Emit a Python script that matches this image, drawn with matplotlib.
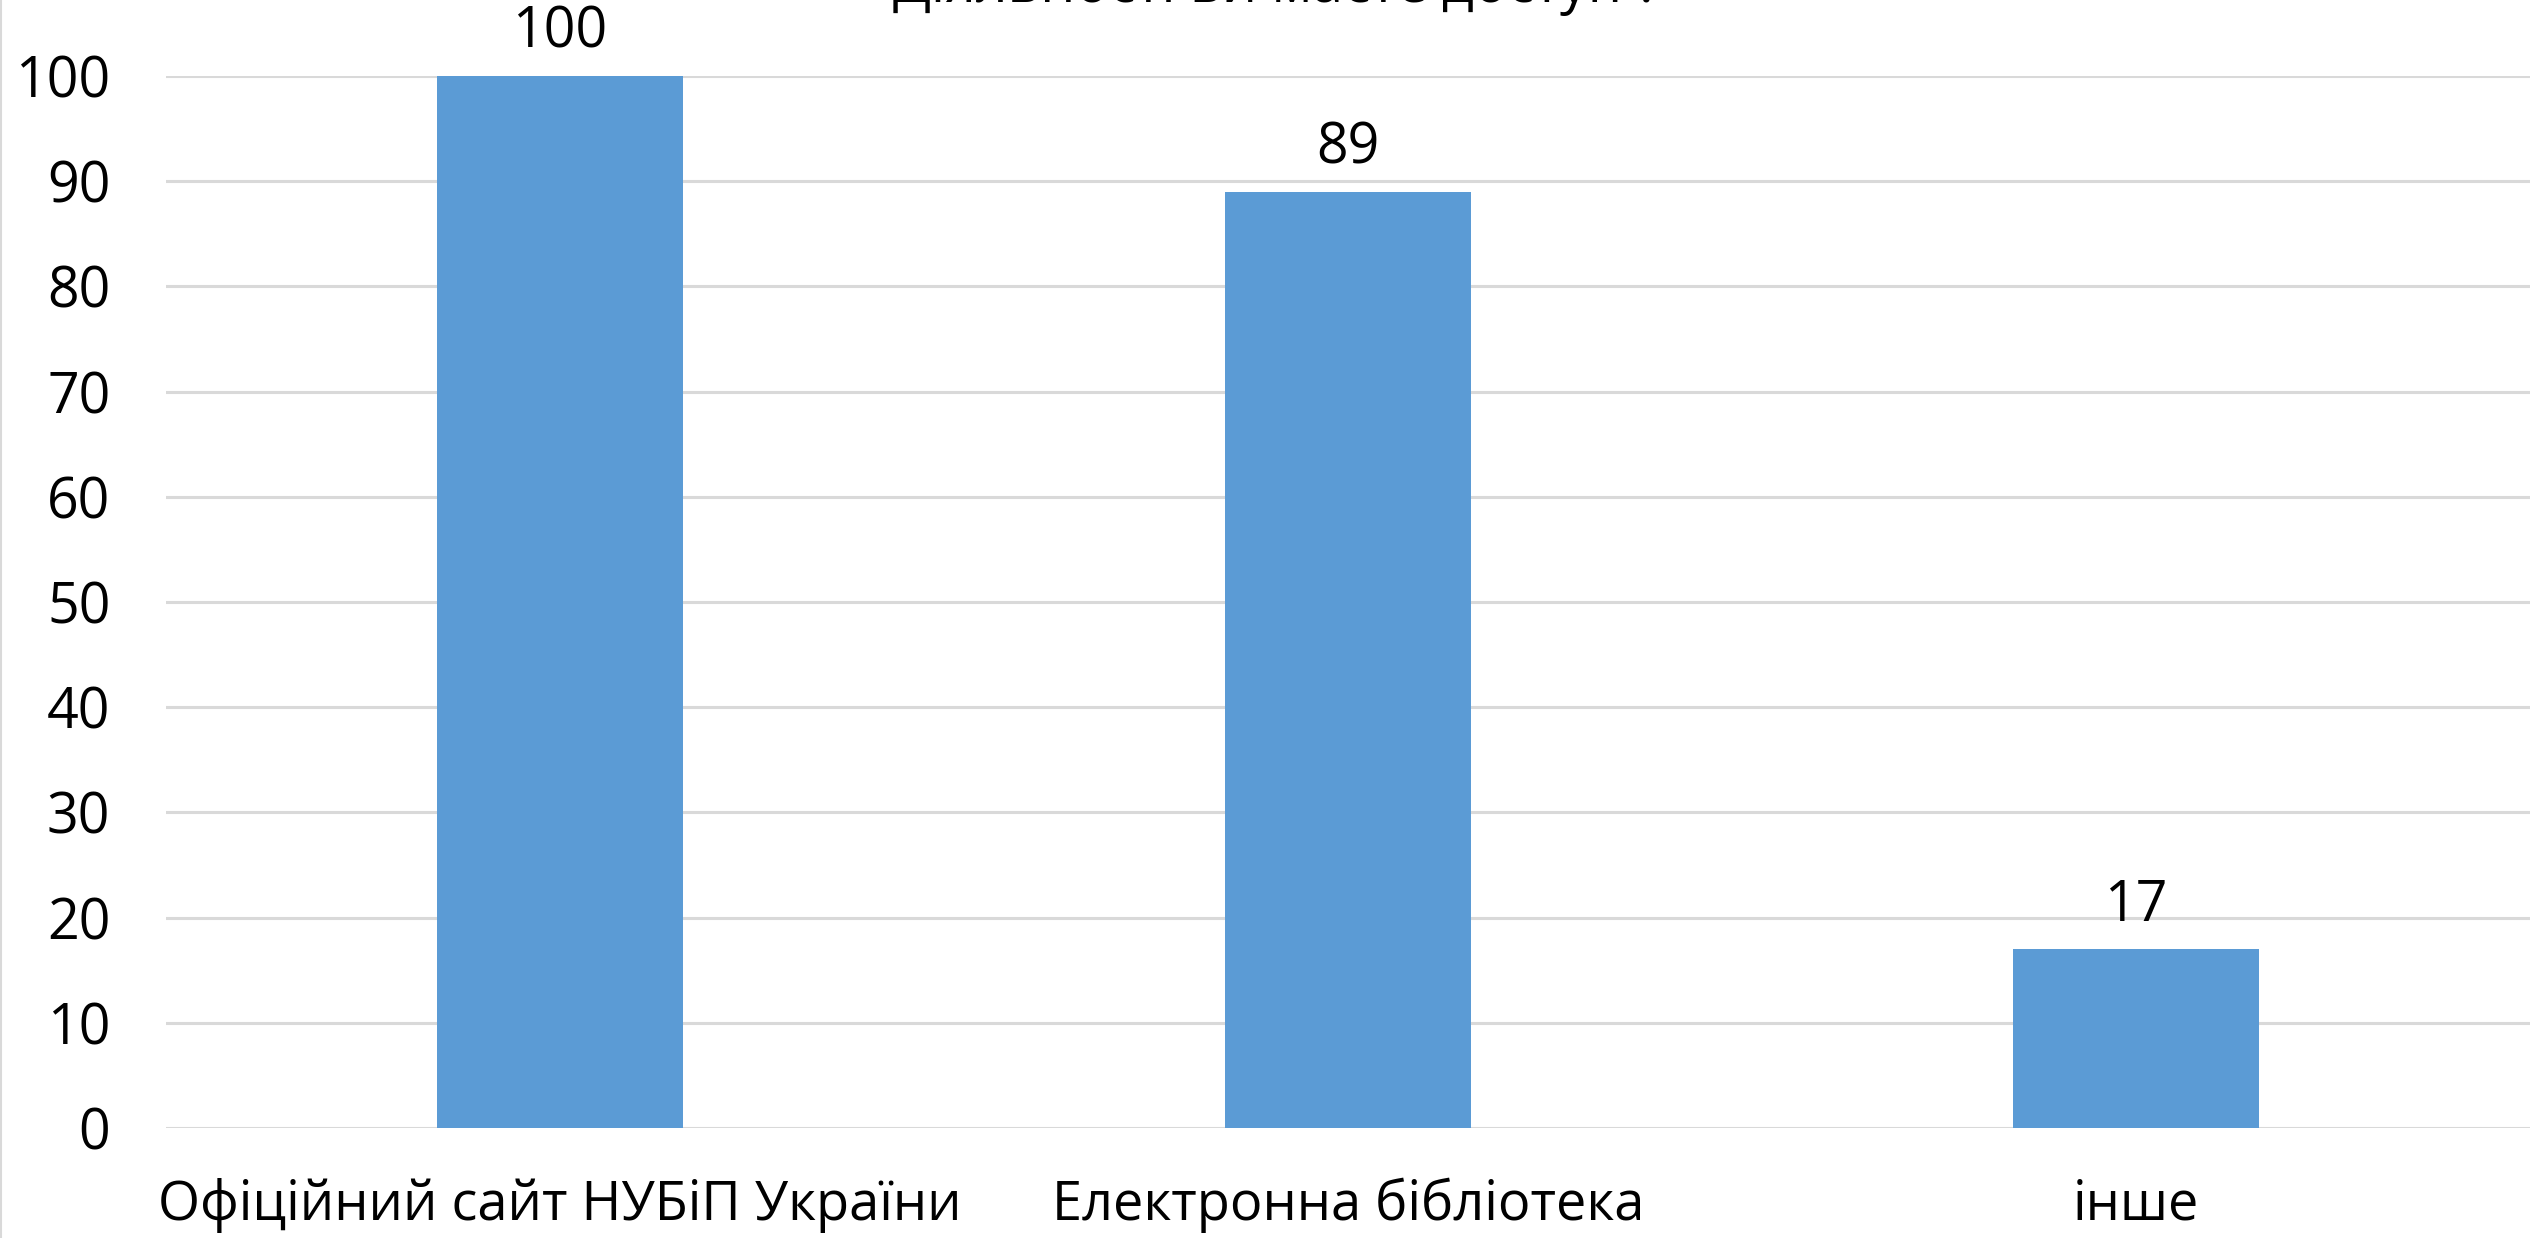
import matplotlib
matplotlib.use("Agg")
import matplotlib.pyplot as plt
from matplotlib.lines import Line2D

plt.rcParams['font.family'] = ['Open Sans', 'DejaVu Sans']

categories = ["Офіційний сайт НУБіП України", "Електронна бібліотека", "інше"]
values = [100, 89, 17]
yticks = [0, 10, 20, 30, 40, 50, 60, 70, 80, 90, 100]
title = "Діяльності ви маєте доступ ?"

W, H = 2531, 1238
fig = plt.figure(figsize=(W / 100, H / 100), dpi=100)
ax = fig.add_axes([166 / W, 1 - 1128 / H, (2530 - 166) / W, (1128 - 76) / H])

bar_color = "#5B9BD5"
x = list(range(len(categories)))
bars = ax.bar(x, values, width=0.313, color=bar_color, zorder=3)

ax.set_xlim(-0.5, len(categories) - 0.5)
ax.set_ylim(0, 100)
ax.set_yticks(yticks)
ax.set_yticklabels([str(t) for t in yticks], fontsize=40)
ax.set_xticks(x)
ax.set_xticklabels(categories, fontsize=39)
ax.tick_params(axis='y', length=0, pad=40)
ax.tick_params(axis='x', length=0, pad=36)
ax.grid(axis='y', color="#D9D9D9", linewidth=2.2, zorder=0)
ax.set_axisbelow(True)
for s in ax.spines.values():
    s.set_visible(False)

for b, v in zip(bars, values):
    ax.annotate(str(v), (b.get_x() + b.get_width() / 2, v), xytext=(0, 31),
                textcoords='offset points', ha='center', va='center', fontsize=40)

fig.text(1277 / W, 1 - 2 / H, title, ha='center', va='baseline', fontsize=40)
fig.add_artist(Line2D([1 / W, 1 / W], [0, 1], color="#D9D9D9", linewidth=1.5,
                      transform=fig.transFigure))

fig.savefig("out.png", dpi=100)
